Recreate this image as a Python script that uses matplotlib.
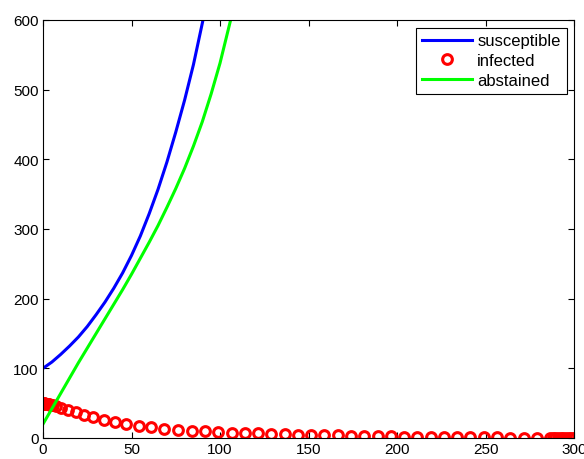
#Populations over time: susceptible, infected and abstained.
import matplotlib.pyplot as plt
import numpy as np

plt.rcParams['font.family'] = ['Liberation Sans', 'DejaVu Sans']

#1. susceptible population (blue line)
t_sus = [0, 5, 10, 15, 20, 25, 30, 35, 40, 45, 50, 55, 60, 65, 70, 75, 80, 85, 90.4, 93]
sus = [100, 109, 120, 132, 145, 160, 177, 195, 215, 237, 262, 290, 322, 357, 396, 439, 485, 536, 600, 635]

#2. abstained population (green line)
t_abs = [0, 5, 10, 15, 20, 25, 30, 35, 40, 45, 50, 55, 60, 65, 70, 75, 80, 85, 90, 95, 100, 106, 109]
abst = [20, 42, 64, 86, 108, 129, 150, 171, 192, 213, 235, 258, 281, 305, 331, 358, 387, 419, 454, 494, 538, 600, 635]

#3. infected population (red circles, one per solver step)
t_inf = [0, 0.3, 0.6, 1, 1.4, 1.8, 2.3, 2.8, 3.4, 4, 4.7, 5.5, 7.5, 10, 14, 18.5, 23, 28.5,
         34.5, 40.5, 47, 54, 61, 68.5, 76.5, 84, 91.5, 99, 106.5, 114, 121.5, 129, 136.5,
         144, 151.5, 159, 166.5, 174, 181.5, 189, 196.5, 204, 211.5, 219, 226.5, 234, 241.5,
         249, 256.5, 264, 271.5, 279, 286.5, 288, 289.5, 291, 292.5, 294, 295.5, 297, 298.5, 300]
inf = [50, 49.8, 49.6, 49.4, 49.2, 49, 48.7, 48.4, 48.1, 47.7, 47.3, 46.8, 45.5, 43, 40, 37, 33.5, 29.5,
       26, 23, 20.5, 17.5, 15.5, 13, 11.5, 10.5, 9.5, 8.5, 7.8, 7.2, 6.6, 6, 5.4,
       5, 4.5, 4.1, 3.7, 3.3, 3, 2.7, 2.4, 2.1, 1.8, 1.5, 1.3, 1.1, 0.95,
       0.85, 0.75, 0.7, 0.65, 0.6, 0.55, 0.55, 0.5, 0.5, 0.5, 0.5, 0.5, 0.5, 0.5, 0.5]

#4. Plotting
fig = plt.figure(figsize=(5.84, 4.6), dpi=100)
ax = fig.add_axes([43/584, 21/460, (574-43)/584, (439-21)/460])
ax.plot(t_sus, sus, color=(0, 0, 1), lw=2.2, label='susceptible')
ax.plot(t_inf, inf, 'o', color=(1, 0, 0), mfc='none', ms=7, mew=2.2, label='infected')
ax.plot(t_abs, abst, color=(0, 1, 0), lw=2.2, label='abstained')

ax.set_xlim(0, 300)
ax.set_ylim(0, 600)
ax.set_xticks(np.arange(0, 301, 50))
ax.set_yticks(np.arange(0, 601, 100))
ax.tick_params(direction='in', length=4, width=0.8, top=True, right=True,
               labelsize=11, pad=3)
for s in ax.spines.values():
    s.set_linewidth(0.8)

leg = ax.legend(loc='upper right', numpoints=1, fontsize=12, fancybox=False,
                edgecolor='black', framealpha=1, borderaxespad=0.45,
                handlelength=3.0, handletextpad=0.3, labelspacing=0.28, borderpad=0.35)
leg.get_frame().set_linewidth(0.8)

fig.savefig('out.png', dpi=100)
